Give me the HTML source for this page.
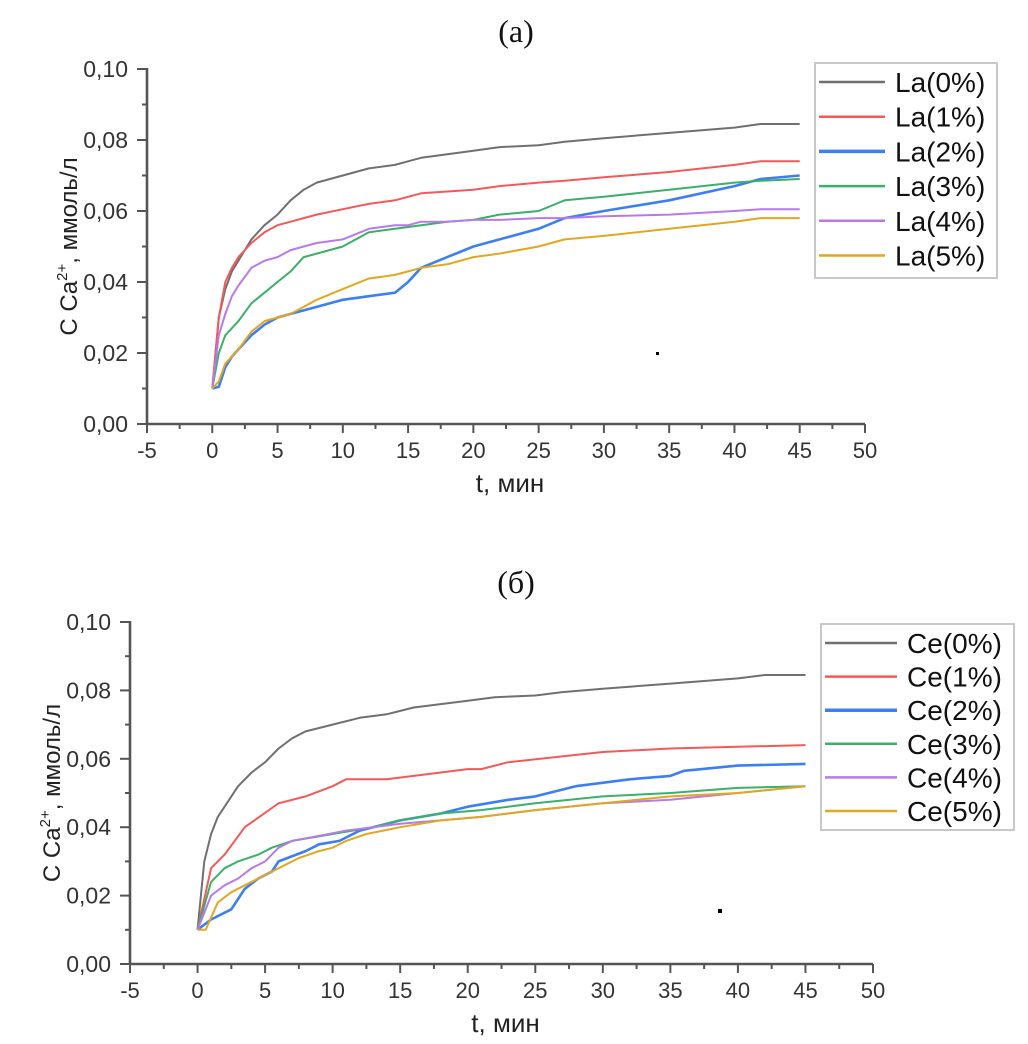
<!DOCTYPE html>
<html><head><meta charset="utf-8"><style>
html,body{margin:0;padding:0;background:#fff}
svg{display:block}
</style></head><body>
<svg id="fig" width="1028" height="1044" xmlns="http://www.w3.org/2000/svg">
<text x="516" y="42" text-anchor="middle" font-family="Liberation Serif, serif" font-size="32" fill="#111">(a)</text>
<text x="516" y="593" text-anchor="middle" font-family="Liberation Serif, serif" font-size="32" fill="#111">(б)</text>
<rect x="656" y="352" width="3" height="3" fill="#000"/>
<rect x="718" y="909" width="4" height="4" fill="#000"/>
<g id="chartA"></g>
<g id="chartB"></g>
</svg>
<script>
// ---------- data: panel (a) La ----------
const tA = [0,0.5,1,1.5,2,3,4,5,6,7,8,10,12,14,15,16,18,20,22,25,27,30,35,40,42,45];
const la0 = [0.01,0.03,0.038,0.043,0.046,0.052,0.056,0.059,0.063,0.066,0.068,0.070,0.072,0.073,0.074,0.075,0.076,0.077,0.078,0.0785,0.0795,0.0805,0.082,0.0835,0.0845,0.0845];
const la1 = [0.01,0.03,0.040,0.044,0.047,0.051,0.054,0.056,0.057,0.058,0.059,0.0605,0.062,0.063,0.064,0.065,0.0655,0.066,0.067,0.068,0.0685,0.0695,0.071,0.073,0.074,0.074];
const la2 = [0.01,0.0105,0.016,0.019,0.021,0.025,0.028,0.030,0.031,0.032,0.033,0.035,0.036,0.037,0.040,0.044,0.047,0.050,0.052,0.055,0.058,0.060,0.063,0.067,0.069,0.070];
const la3 = [0.01,0.020,0.025,0.027,0.029,0.034,0.037,0.040,0.043,0.047,0.048,0.050,0.054,0.055,0.0555,0.056,0.057,0.0575,0.059,0.060,0.063,0.064,0.066,0.068,0.0685,0.069];
const la4 = [0.01,0.025,0.031,0.036,0.039,0.044,0.046,0.047,0.049,0.050,0.051,0.052,0.055,0.056,0.056,0.057,0.057,0.0575,0.0575,0.058,0.058,0.0585,0.059,0.060,0.0605,0.0605];
const la5 = [0.01,0.012,0.017,0.019,0.021,0.026,0.029,0.030,0.031,0.033,0.035,0.038,0.041,0.042,0.043,0.044,0.045,0.047,0.048,0.050,0.052,0.053,0.055,0.057,0.058,0.058];
const laNames = ["La(0%)","La(1%)","La(2%)","La(3%)","La(4%)","La(5%)"];
// ---------- data: panel (b) Ce ----------
const ce0t = tA;
const ce0 = la0;
const ce1t = [0,1,2,3.5,6,8,10,11,14,20,21,23,30,35,40,45];
const ce1 = [0.01,0.028,0.032,0.040,0.047,0.049,0.052,0.054,0.054,0.057,0.057,0.059,0.062,0.063,0.0635,0.064];
const ce2t = [0,1,2.5,3.5,4.5,5.5,6,8,9,10.5,12,15,18,20,23,25,28,32,35,36,40,45];
const ce2 = [0.01,0.013,0.016,0.022,0.025,0.027,0.030,0.033,0.035,0.036,0.039,0.042,0.044,0.046,0.048,0.049,0.052,0.054,0.055,0.0565,0.058,0.0585];
const ce3t = [0,1,2,3,4.5,5.5,7,10,13,15,18,21,25,30,35,40,45];
const ce3 = [0.01,0.024,0.028,0.030,0.032,0.034,0.036,0.038,0.040,0.042,0.044,0.045,0.047,0.049,0.050,0.0515,0.052];
const ce4t = [0,1,2,3,4,5,6,7,9,11,13,15,18,21,25,30,35,40,45];
const ce4 = [0.01,0.020,0.023,0.025,0.028,0.030,0.034,0.036,0.0375,0.039,0.040,0.041,0.042,0.043,0.045,0.047,0.048,0.050,0.052];
const ce5t = [0,0.6,1.5,2.5,3.5,5,6,7.5,9,10,11,12.5,15,18,21,25,30,35,40,45];
const ce5 = [0.01,0.010,0.018,0.021,0.023,0.026,0.028,0.031,0.033,0.034,0.036,0.038,0.040,0.042,0.043,0.045,0.047,0.049,0.050,0.052];
const ceNames = ["Ce(0%)","Ce(1%)","Ce(2%)","Ce(3%)","Ce(4%)","Ce(5%)"];
const xTicks = [-5,0,5,10,15,20,25,30,35,40,45,50];
const yTicks = [0,0.02,0.04,0.06,0.08,0.10];
const yTickLabels = ["0,00","0,02","0,04","0,06","0,08","0,10"];
const colors = ["#707070","#f25a5a","#3d7ff0","#3caf6a","#b77ae8","#e0a822"];

const NS="http://www.w3.org/2000/svg";
function mk(tag,attrs,parent){const e=document.createElementNS(NS,tag);for(const k in attrs)e.setAttribute(k,attrs[k]);parent.appendChild(e);return e;}

function drawChart(g, cfg, series, names){
  const X=v=>cfg.x0+(v+5)/55*(cfg.x1-cfg.x0);
  const Y=v=>cfg.y0-v/0.1*(cfg.y0-cfg.y1);
  series.forEach((s,i)=>{
    const d=s.t.map((t,j)=>(j?"L":"M")+X(t).toFixed(1)+","+Y(s.v[j]).toFixed(1)).join(" ");
    const p=mk("path",{d:d,fill:"none",stroke:colors[i],"stroke-width":i==2?2.6:2,"stroke-linejoin":"round"},g);
    
    
  });
  const ax=mk("g",{stroke:"#555","stroke-width":2.6},g);
  
  
  mk("line",{x1:cfg.x0,y1:cfg.y1-1,x2:cfg.x0,y2:cfg.y0},ax);
  mk("line",{x1:cfg.x0,y1:cfg.y0,x2:cfg.x1,y2:cfg.y0},ax);
  for(let v=-5;v<=50;v+=2.5){const major=(v%5===0);mk("line",{x1:X(v),y1:cfg.y0,x2:X(v),y2:cfg.y0+(major?9:5),"stroke-width":2},ax);}
  for(let k=0;k<=10;k++){const v=k/100;mk("line",{x1:cfg.x0,y1:Y(v),x2:cfg.x0-(k%2===0?10:5),y2:Y(v),"stroke-width":2},ax);}
  xTicks.forEach(v=>{const t=mk("text",{x:X(v),y:cfg.y0+34,"text-anchor":"middle","font-family":"Liberation Sans, sans-serif","font-size":22,fill:"#333"},g);t.textContent=v;
    
    });
  yTicks.forEach((v,k)=>{const t=mk("text",{x:cfg.x0-19,y:Y(v)+8,"text-anchor":"end","font-family":"Liberation Sans, sans-serif","font-size":23,fill:"#333"},g);t.textContent=yTickLabels[k];
    
    });
  const xt=mk("text",{x:(cfg.x0+cfg.x1)/2+4,y:cfg.y0+68,"text-anchor":"middle","font-family":"Liberation Sans, sans-serif","font-size":26,fill:"#222"},g);
  xt.textContent="t, мин";
  
  
  const yc=(cfg.y0+cfg.y1)/2;
  const yt=mk("text",{x:0,y:0,transform:`translate(${cfg.x0-70},${yc}) rotate(-90)`,"text-anchor":"middle","font-family":"Liberation Sans, sans-serif","font-size":24,fill:"#222"},g);
  yt.innerHTML='C Ca<tspan dy="-10" font-size="15">2+</tspan><tspan dy="10">, ммоль/л</tspan>';
  
  
  const L=cfg.leg;
  const lg=mk("g",{},g);
  
  
  mk("rect",{x:L.x,y:L.y,width:L.w,height:L.h,fill:"#fff",stroke:"#c8c8c8","stroke-width":2},lg);
  names.forEach((n,i)=>{const yy=L.r0+i*L.dy;
    const ln=mk("line",{x1:L.x+4,y1:yy,x2:L.x+L.lw,y2:yy,stroke:colors[i],"stroke-width":i==2?3.5:2.5},lg);
    
    
    const t=mk("text",{x:L.x+L.lw+10,y:yy+10,"font-family":"Liberation Sans, sans-serif","font-size":L.fs,fill:"#111"},lg);t.textContent=n;
    
    });
}
const gA=document.getElementById("chartA"), gB=document.getElementById("chartB");
drawChart(gA,{x0:147,x1:865,y0:424,y1:69,leg:{x:815,y:63,w:182,h:215,r0:82,dy:34.7,lw:70,fs:28}},
  [{t:tA,v:la0},{t:tA,v:la1},{t:tA,v:la2},{t:tA,v:la3},{t:tA,v:la4},{t:tA,v:la5}],laNames);
drawChart(gB,{x0:130,x1:873,y0:964,y1:622,leg:{x:821,y:624,w:193,h:206,r0:643,dy:33.6,lw:76,fs:28}},
  [{t:ce0t,v:ce0},{t:ce1t,v:ce1},{t:ce2t,v:ce2},{t:ce3t,v:ce3},{t:ce4t,v:ce4},{t:ce5t,v:ce5}],ceNames);
</script>
</body></html>
